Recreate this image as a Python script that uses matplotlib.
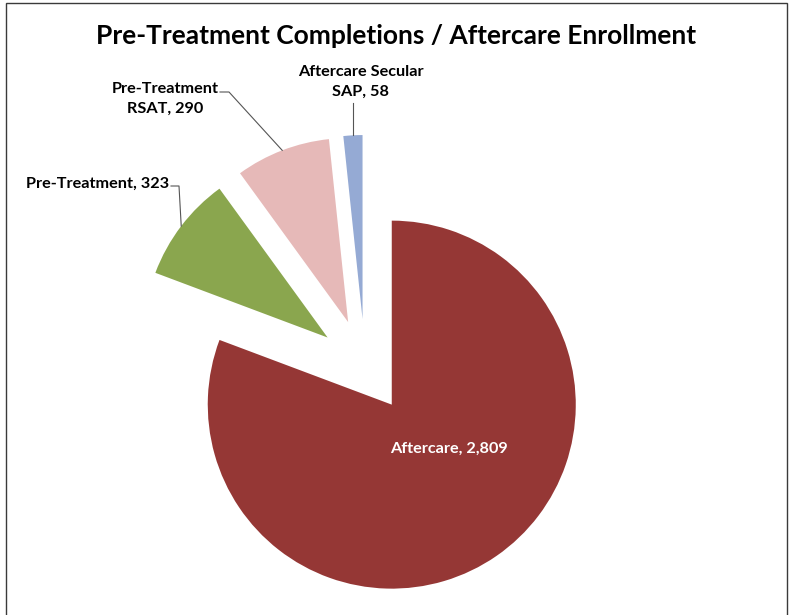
import numpy as np
import matplotlib
matplotlib.use('Agg')
import matplotlib.pyplot as plt
from matplotlib.patches import Rectangle

categories = ['Aftercare', 'Pre-Treatment', 'Pre-Treatment\nRSAT', 'Aftercare Secular\nSAP']
counts = [2809, 323, 290, 58]
colors = ['#953735', '#8AA64E', '#E6B9B8', '#95AAD4']

plt.rcParams['font.family'] = ['Lato', 'DejaVu Sans']

W, H = 793, 615
fig = plt.figure(figsize=(W / 100, H / 100), dpi=100)
ax = fig.add_axes([0, 0, 1, 1])

# chart frame (open at the bottom edge)
ax.add_patch(Rectangle((6, -5), 781, H - 3 + 5, fill=False, ec='#3a3a3a', lw=1.0))

radius = 184
wedges, _ = ax.pie(counts, colors=colors, startangle=90, counterclock=False,
                   center=(365, H - 366), radius=radius, explode=[47] * 4,
                   wedgeprops=dict(linewidth=0), frame=True)
ax.set_xlim(0, W)
ax.set_ylim(0, H)
ax.set_aspect('equal')
ax.axis('off')

fig.text(0.5, 1 - 36 / H, 'Pre-Treatment Completions / Aftercare Enrollment',
         ha='center', va='center', fontsize=19, fontweight='bold')


def label_text(i):
    return f'{categories[i]}, {counts[i]:,}'


def arc_mid(w):
    ang = np.deg2rad((w.theta1 + w.theta2) / 2)
    cx, cy = w.center
    return cx + w.r * np.cos(ang), cy + w.r * np.sin(ang)


fs = 11.7
# big slice label inside
ax.text(449, H - 449, label_text(0), color='white', ha='center', va='center',
        fontsize=fs, fontweight='bold')

line_kw = dict(color='#555555', lw=0.8)

# Pre-Treatment, 323
mx, my = arc_mid(wedges[1])
ax.text(169, H - 184, label_text(1), ha='right', va='center', fontsize=fs, fontweight='bold')
ax.plot([171, 179, mx], [H - 186, H - 186, my], **line_kw)

# Pre-Treatment RSAT, 290
mx, my = arc_mid(wedges[2])
ax.text(165, H - 99, label_text(2), ha='center', va='center', fontsize=fs,
        fontweight='bold', linespacing=1.5)
ax.plot([220, 229, mx], [H - 92, H - 92, my], **line_kw)

# Aftercare Secular SAP, 58
mx, my = arc_mid(wedges[3])
ax.text(361, H - 82, label_text(3), ha='center', va='center', fontsize=fs,
        fontweight='bold', linespacing=1.5)
ax.plot([mx, mx], [H - 103, my], **line_kw)

fig.savefig('out.png', dpi=100)
